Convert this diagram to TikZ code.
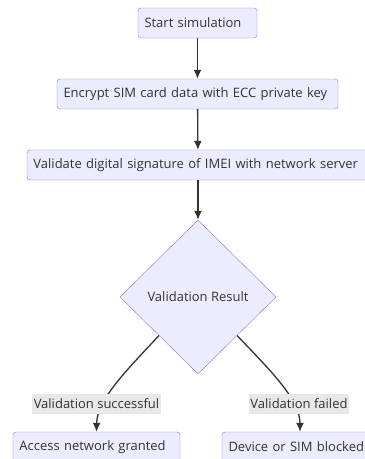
\documentclass[tikz,border=0pt]{standalone}
\usepackage{fontspec}
\setmainfont{Open Sans}
\usetikzlibrary{shapes.geometric,arrows.meta}
\definecolor{boxfill}{HTML}{ECECFF}
\definecolor{boxline}{HTML}{9370DB}
\definecolor{edgeline}{HTML}{333333}
\definecolor{labelbg}{HTML}{E8E8E8}
\begin{document}
\begin{tikzpicture}[x=1pt,y=-1pt,>={Latex[length=9pt,width=8pt]},
    font=\fontsize{13}{15}\selectfont,text=edgeline,
    stepbox/.style={draw=boxline,fill=boxfill,rounded corners=3pt,minimum height=30pt,
        inner xsep=6.5pt,inner ysep=0pt,align=left,text width=#1},
    decision/.style={diamond,draw=boxline,fill=boxfill,inner sep=0pt,minimum width=156pt,minimum height=154pt},
    flow/.style={draw=edgeline,line width=1.3pt,->},
    edgelabel/.style={fill=labelbg,inner xsep=1.5pt,inner ysep=0pt,minimum height=20pt}]
    \useasboundingbox(0,0)rectangle(365,459);
    \clip(0,0)rectangle(365,459);
    % boxes
    \node[stepbox=106pt](start)at(197.5,23){Start simulation};
    \node[stepbox=268pt](encrypt)at(197.5,94){Encrypt SIM card data with ECC private key};
    \node[stepbox=329pt](validate)at(198,165){Validate digital signature of IMEI with network server};
    \node[decision](result)at(198,297){Validation Result};
    \node[stepbox=154pt](granted)at(96.5,447){Access network granted};
    \node[stepbox=143pt](blocked)at(300,447){Device or SIM blocked};
    % connectors
    \draw[flow](start)--(encrypt);
    \draw[flow](encrypt)--(validate);
    \draw[flow](validate)--(result);
    \draw[flow](result.south west)..controls(125,372)and(97,400)..(granted.north);
    \draw[flow](result.south east)..controls(272,372)and(300,400)..(blocked.north);
    % edge labels
    \node[edgelabel](oklabel)at(96.5,403.5){Validation successful};
    \node[edgelabel](faillabel)at(299,403.5){Validation failed};
\end{tikzpicture}
\end{document}
